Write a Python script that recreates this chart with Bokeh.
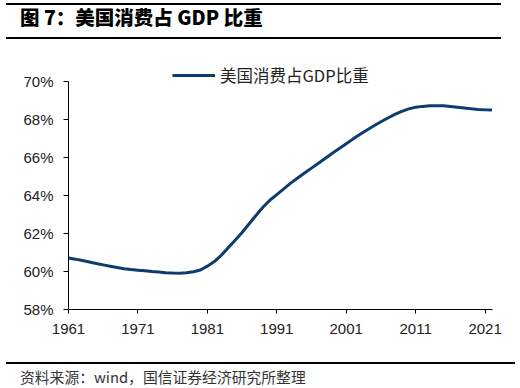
from bokeh.plotting import figure
from bokeh.models import (Range1d, FixedTicker, PrintfTickFormatter, Legend, LegendItem,
                          Div, ColumnDataSource)
from bokeh.layouts import column
from bokeh.embed import file_html
from bokeh.resources import INLINE

title_text = "图 7：美国消费占 GDP 比重"
source_text = "资料来源：wind，国信证券经济研究所整理"
series_name = "美国消费占GDP比重"

years = list(range(1961, 2023))
share = [60.71, 60.65, 60.58, 60.50, 60.42, 60.35, 60.28, 60.21, 60.15, 60.10,
         60.07, 60.04, 60.00, 59.97, 59.94, 59.92, 59.91, 59.93, 59.99, 60.08,
         60.28, 60.52, 60.85, 61.25, 61.65, 62.05, 62.50, 62.95, 63.38, 63.75,
         64.05, 64.35, 64.65, 64.92, 65.18, 65.44, 65.70, 65.96, 66.22, 66.47,
         66.72, 66.98, 67.22, 67.45, 67.67, 67.88, 68.08, 68.27, 68.43, 68.56,
         68.64, 68.69, 68.72, 68.73, 68.72, 68.68, 68.64, 68.60, 68.56, 68.53,
         68.51, 68.50]
y_ticks = [58, 60, 62, 64, 66, 68, 70]
x_ticks = [1961, 1971, 1981, 1991, 2001, 2011, 2021]

src = ColumnDataSource(data=dict(year=years, share=share))

p = figure(width=520, height=317, x_range=Range1d(1961, 2022.07), y_range=Range1d(58, 71.263),
           output_backend="svg", toolbar_location=None,
           min_border_left=68, min_border_right=28, min_border_top=14, min_border_bottom=51,
           margin=0)
p.outline_line_color = None
p.xgrid.visible = False
p.ygrid.visible = False
p.background_fill_color = "white"
p.border_fill_color = None

r = p.line("year", "share", source=src, line_color="#0D3C6E", line_width=3)

for ax in (p.xaxis[0], p.yaxis[0]):
    ax.axis_line_color = "#000000"
    ax.axis_line_width = 1
    ax.major_tick_line_color = "#000000"
    ax.major_tick_in = 0
    ax.minor_tick_line_color = None
    ax.major_label_text_font = "Liberation Sans"
    ax.major_label_text_font_size = "15px"
    ax.major_label_text_color = "#222222"

p.yaxis[0].ticker = FixedTicker(ticks=y_ticks)
p.yaxis[0].formatter = PrintfTickFormatter(format="%d%%")
p.yaxis[0].bounds = (58, 70)
p.yaxis[0].major_tick_out = 5
p.yaxis[0].major_label_standoff = 10
p.xaxis[0].ticker = FixedTicker(ticks=x_ticks)
p.xaxis[0].major_tick_out = 4
p.xaxis[0].major_label_standoff = 10

legend = Legend(items=[LegendItem(label=series_name, renderers=[r])],
                location=(104, 222), orientation="horizontal",
                padding=0, margin=0, border_line_color=None, background_fill_alpha=0,
                glyph_width=43, glyph_height=24, label_height=24, label_standoff=5,
                label_text_font="Noto Sans CJK SC", label_text_font_size="16.5px",
                label_text_color="#222222")
p.add_layout(legend)

header_html = (
    '<div style="margin-top:3px;width:495px;height:36px;padding-left:14px;'
    'border-top:2px solid #000000;border-bottom:2px solid #000000;'
    'font-family:\'Noto Sans CJK SC\';font-weight:900;font-size:19.5px;line-height:24px;'
    'color:#000000;white-space:nowrap;">' + title_text + '</div>'
)
title_div = Div(text=header_html, width=509, height=43, margin=(0, 0, 0, 6))
source_div = Div(text=source_text, width=509, height=26, margin=(2, 0, 0, 6),
                 styles={"font-family": "'Noto Sans CJK SC'", "font-size": "14.8px",
                         "line-height": "20px", "padding-top": "3px", "color": "#333333",
                         "white-space": "nowrap", "box-sizing": "border-box",
                         "border-top": "2px solid #000000", "padding-left": "14px"})

layout = column(title_div, p, source_div, spacing=0)

open("out.html", "w").write(file_html(layout, INLINE))
